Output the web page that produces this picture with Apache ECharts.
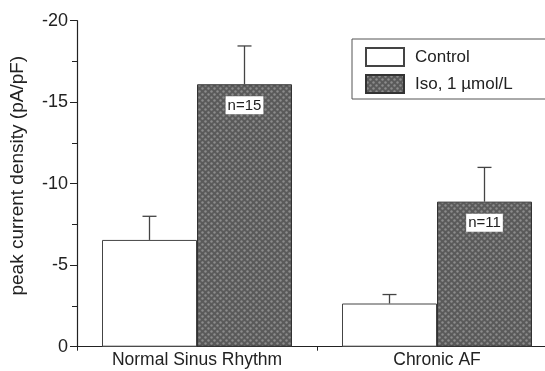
<!DOCTYPE html>
<html>
<head>
<meta charset="utf-8">
<style>
  html, body { margin: 0; padding: 0; background: #fff; }
  #chart { width: 545px; height: 371px; }
</style>
<script src="https://cdn.jsdelivr.net/npm/echarts@6/dist/echarts.min.js"></script>
</head>
<body>
<div id="chart"></div>
<script>
// Peak current density by rhythm group, control vs isoproterenol
const categories = ['Normal Sinus Rhythm', 'Chronic AF'];
const controlMean = [-6.55, -2.65];
const controlSem = [1.45, 0.55];
const isoMean = [-16.1, -8.9];
const isoSem = [2.35, 2.1];
const sampleSizes = ['n=15', 'n=11'];
const yTicks = [0, -5, -10, -15, -20];

const FONT = '"Liberation Sans", Arial, Helvetica, sans-serif';
const BAR_W = 95;

// Halftone-style dark grey fill for the isoproterenol bars
function makeHalftone() {
  const c = document.createElement('canvas');
  c.width = 6; c.height = 6;
  const g = c.getContext('2d');
  g.fillStyle = '#5a5a5a';
  g.fillRect(0, 0, 6, 6);
  g.fillStyle = '#8c8c8c';
  g.beginPath(); g.arc(1.5, 1.5, 1.2, 0, Math.PI * 2); g.fill();
  g.beginPath(); g.arc(4.5, 4.5, 1.2, 0, Math.PI * 2); g.fill();
  return c;
}
const halftone = { image: makeHalftone(), repeat: 'repeat' };

function errorSeries(name, means, sems, side) {
  return {
    type: 'custom',
    name: name + ' err',
    z: 1,
    silent: true,
    data: means.map((m, i) => [i, m, m - sems[i]]),
    renderItem: function (params, api) {
      const i = api.value(0);
      const base = api.coord([i, api.value(1)]);
      const tip = api.coord([i, api.value(2)]);
      const x = base[0] + side * BAR_W / 2;
      const style = { stroke: '#444', lineWidth: 1.3 };
      return {
        type: 'group',
        children: [
          { type: 'line', shape: { x1: x, y1: base[1], x2: x, y2: tip[1] }, style: style },
          { type: 'line', shape: { x1: x - 7, y1: tip[1], x2: x + 7, y2: tip[1] }, style: style }
        ]
      };
    }
  };
}

const chart = echarts.init(document.getElementById('chart'));
chart.setOption({
  animation: false,
  backgroundColor: '#fff',
  textStyle: { fontFamily: FONT },
  // the category axis runs past the right edge, so the plot box is not kept inside the view
  grid: { left: 77, top: 20.7, width: 480, height: 326, outerBoundsMode: 'none' },
  legend: {
    left: 352, top: 39,
    orient: 'vertical',
    itemWidth: 38, itemHeight: 18, itemGap: 7,
    padding: [8, 36, 5, 13],
    borderColor: '#555', borderWidth: 1,
    backgroundColor: '#fff',
    textStyle: { fontSize: 17, lineHeight: 18, color: '#222', fontFamily: FONT, padding: [0, 0, 0, 6] },
    data: [
      { name: 'Control', icon: 'rect' },
      { name: 'Iso, 1 µmol/L', icon: 'rect' }
    ]
  },
  xAxis: {
    type: 'category',
    data: categories,
    axisLine: { lineStyle: { color: '#222', width: 1.2 } },
    axisTick: { show: true, length: 4, lineStyle: { color: '#222' } },
    axisLabel: { fontSize: 17.5, color: '#222', margin: 4, fontFamily: FONT }
  },
  yAxis: {
    type: 'value',
    inverse: true,
    min: -20, max: 0, interval: 5,
    name: 'peak current density (pA/pF)',
    nameLocation: 'middle',
    nameGap: 50,
    nameTextStyle: { fontSize: 19, color: '#222', fontFamily: FONT, padding: [0, 0, 0, 16] },
    axisLine: { show: true, lineStyle: { color: '#222', width: 1.2 } },
    axisTick: { show: true, length: 7, lineStyle: { color: '#222' } },
    minorTick: { show: true, splitNumber: 2, length: 5, lineStyle: { color: '#222' } },
    splitLine: { show: false },
    axisLabel: {
      fontSize: 18, color: '#222', margin: 9, fontFamily: FONT,
      formatter: v => (yTicks.indexOf(v) >= 0 ? String(v) : '')
    }
  },
  series: [
    {
      name: 'Control',
      type: 'bar',
      barWidth: BAR_W,
      barGap: '0%',
      z: 2,
      data: controlMean,
      itemStyle: { color: '#fff', borderColor: '#444', borderWidth: 1 }
    },
    {
      name: 'Iso, 1 µmol/L',
      type: 'bar',
      barWidth: BAR_W,
      barGap: '0%',
      z: 2,
      data: isoMean,
      itemStyle: { color: halftone, borderColor: '#333', borderWidth: 1 },
      label: {
        show: true,
        position: 'insideTop',
        distance: 12,
        formatter: p => sampleSizes[p.dataIndex],
        backgroundColor: '#fff',
        padding: [2, 2, 1, 2],
        fontSize: 15,
        color: '#222',
        fontFamily: FONT
      }
    },
    errorSeries('Control', controlMean, controlSem, -1),
    errorSeries('Iso', isoMean, isoSem, 1)
  ]
});
</script>
</body>
</html>
